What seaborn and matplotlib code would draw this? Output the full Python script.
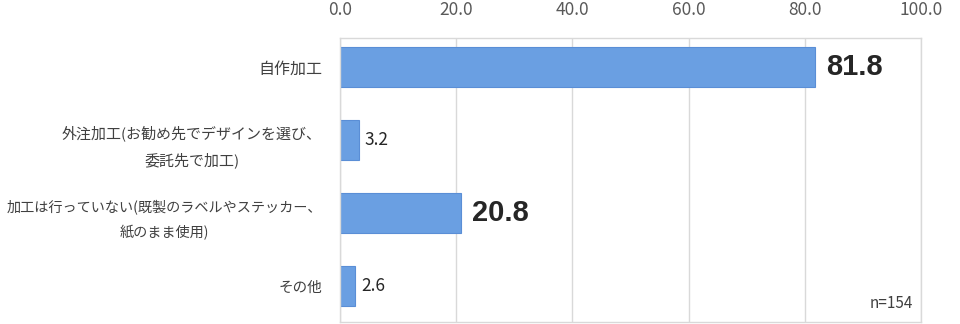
import matplotlib
matplotlib.use("Agg")
import matplotlib.pyplot as plt
import seaborn as sns
import pandas as pd

categories = [
    "自作加工",
    "外注加工(お勧め先でデザインを選び、\n委託先で加工)",
    "加工は行っていない(既製のラベルやステッカー、\n紙のまま使用)",
    "その他",
]
values = [81.8, 3.2, 20.8, 2.6]
highlight = [True, False, True, False]
x_ticks = [0, 20, 40, 60, 80, 100]
x_tick_labels = ["0.0", "20.0", "40.0", "60.0", "80.0", "100.0"]
note = "n=154"

sns.set_style("white")
plt.rcParams["font.family"] = ["Noto Sans CJK JP", "DejaVu Sans"]

df = pd.DataFrame({"cat": categories, "val": values})

fig = plt.figure(figsize=(9.6, 3.24), dpi=100)
ax = fig.add_axes([340 / 960, 1 - 322 / 324, (921 - 340) / 960, (322 - 38) / 324])

sns.barplot(data=df, x="val", y="cat", orient="h", color="#6A9FE2", saturation=1,
            width=0.56, edgecolor="#5A8ED6", linewidth=0.8, ax=ax)

ax.set_xlim(0, 100)
ax.set_ylim(3.493, -0.397)
ax.set_xticks(x_ticks)
ax.set_xticklabels(x_tick_labels)
ax.xaxis.tick_top()
ax.tick_params(axis="x", length=0, pad=14, labelsize=12.5, labelcolor="#595959")
ax.tick_params(axis="y", length=0, pad=13, labelcolor="#404040")
label_sizes = [11.5, 10.8, 10.2, 10.5]
for lbl, fs in zip(ax.get_yticklabels(), label_sizes):
    lbl.set_multialignment("center")
    lbl.set_linespacing(1.85)
    lbl.set_fontsize(fs)
ax.set_xlabel("")
ax.set_ylabel("")
ax.grid(axis="x", color="#D9D9D9", linewidth=1)
ax.set_axisbelow(True)
for s in ax.spines.values():
    s.set_visible(True)
    s.set_color("#D9D9D9")
    s.set_linewidth(1)

for i, (v, h) in enumerate(zip(values, highlight)):
    if h:
        ax.annotate(f"{v:.1f}", xy=(v, i), xytext=(8, 0), textcoords="offset points",
                    ha="left", va="center", fontsize=21, fontweight="bold",
                    family=["Liberation Sans"], color="#262626")
    else:
        ax.annotate(f"{v:.1f}", xy=(v, i), xytext=(4.5, 0), textcoords="offset points",
                    ha="left", va="center", fontsize=12.5, color="#262626")

ax.text(0.987, 0.035, note, transform=ax.transAxes, ha="right", va="bottom",
        fontsize=11, color="#404040")

fig.savefig("out.png", dpi=100, facecolor="white")
